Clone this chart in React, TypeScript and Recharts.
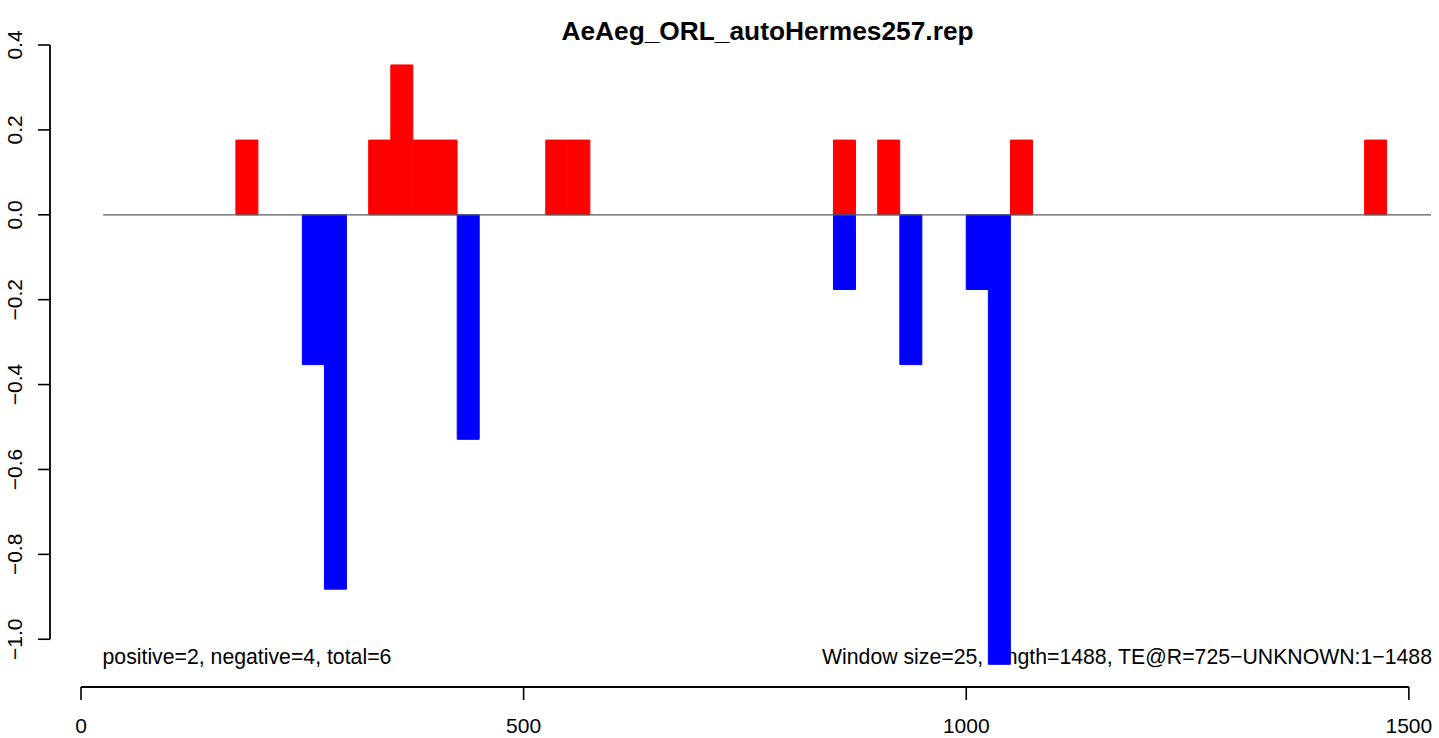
import React from 'react';
import { BarChart, Bar, XAxis, YAxis, ReferenceLine } from 'recharts';

// ---- data ----
const WINDOW_SIZE = 25;
const windowStarts = [175, 250, 275, 325, 350, 375, 400, 425, 525, 550, 850, 900, 925, 1000, 1025, 1050, 1450];
const positiveValues = [0.176, 0, 0, 0.176, 0.353, 0.176, 0.176, 0, 0.176, 0.176, 0.176, 0.176, 0, 0, 0, 0.176, 0.176];
const negativeValues = [0, -0.353, -0.882, 0, 0, 0, 0, -0.529, 0, 0, -0.176, 0, -0.353, -0.176, -1.059, 0, 0];

const xTicks = [0, 500, 1000, 1500];
const yTicks = [-1.0, -0.8, -0.6, -0.4, -0.2, 0, 0.2, 0.4];

const titleText = 'AeAeg_ORL_autoHermes257.rep';
const countsText = 'positive=2, negative=4, total=6';
const infoText = 'Window size=25, length=1488, TE@R=725\u2212UNKNOWN:1\u22121488';

const baselineRange = [25, 1525];
const xDomain = [-35, 1525];
const yDomain = [-1.1125, 0.4];

const data = windowStarts.map((s, i) => ({
  x: s + WINDOW_SIZE / 2,
  pos: positiveValues[i],
  neg: negativeValues[i],
}));

const FONT = '"Liberation Sans", Arial, Helvetica, sans-serif';

const fmtY = (v: number) => {
  const s = v.toFixed(1);
  return s.startsWith('-') ? '\u2212' + s.slice(1) : s;
};

const YTick = (props: any) => {
  const { x, y, payload } = props;
  const bx = x - 14.3;
  return (
    <text
      x={bx}
      y={y}
      transform={`rotate(-90, ${bx}, ${y})`}
      textAnchor="middle"
      fontSize={21}
      fill="#000"
      fontFamily={FONT}
    >
      {fmtY(payload.value)}
    </text>
  );
};

export default function App() {
  return (
    <div
      style={{
        position: 'absolute',
        left: 0,
        top: 0,
        width: 1439,
        height: 738,
        background: '#fff',
        fontFamily: FONT,
      }}
    >
      <svg
        width={1439}
        height={738}
        style={{ position: 'absolute', left: 0, top: 0, pointerEvents: 'none' }}
      >
        <text x={767.5} y={40} textAnchor="middle" fontWeight="bold" fontSize={26.3} fill="#000" fontFamily={FONT}>
          {titleText}
        </text>
        <text x={102.5} y={664} fontSize={21.25} fill="#000" fontFamily={FONT}>
          {countsText}
        </text>
        <text x={1432} y={664} textAnchor="end" fontSize={21.25} fill="#000" fontFamily={FONT}>
          {infoText}
        </text>
      </svg>
      <div style={{ position: 'absolute', left: 0, top: 0 }}>
        <BarChart
          width={1439}
          height={738}
          data={data}
          margin={{ top: 45, right: 8, bottom: 0, left: 0 }}
          stackOffset="sign"
          barCategoryGap={0}
          barGap={0}
        >
          <XAxis
            type="number"
            dataKey="x"
            domain={xDomain}
            allowDataOverflow
            ticks={xTicks}
            interval={0}
            axisLine={false}
            tickLine={{ stroke: '#000', strokeWidth: 1.6 }}
            tickSize={13}
            tickMargin={18}
            height={51}
            tick={{ fill: '#000', fontSize: 21, fontFamily: FONT }}
          />
          <YAxis
            type="number"
            domain={yDomain}
            allowDataOverflow
            ticks={yTicks}
            interval={0}
            axisLine={false}
            tickLine={{ stroke: '#000', strokeWidth: 1.6 }}
            tickSize={12}
            width={50}
            tick={YTick}
          />
          <Bar dataKey="pos" stackId="s" fill="#ff0000" stroke="#ff0000" strokeWidth={1} isAnimationActive={false} />
          <Bar dataKey="neg" stackId="s" fill="#0000ff" stroke="#0000ff" strokeWidth={1} isAnimationActive={false} />
          <ReferenceLine
            segment={[{ x: baselineRange[0], y: 0 }, { x: baselineRange[1], y: 0 }]}
            stroke="#5a5a5a"
            strokeWidth={1.3}
            ifOverflow="visible"
          />
          <ReferenceLine
            segment={[{ x: xTicks[0], y: yDomain[0] }, { x: xTicks[xTicks.length - 1], y: yDomain[0] }]}
            stroke="#000"
            strokeWidth={1.8}
            ifOverflow="visible"
          />
          <ReferenceLine
            segment={[{ x: xDomain[0], y: yTicks[0] }, { x: xDomain[0], y: yTicks[yTicks.length - 1] }]}
            stroke="#000"
            strokeWidth={1.8}
            ifOverflow="visible"
          />
        </BarChart>
      </div>
    </div>
  );
}
